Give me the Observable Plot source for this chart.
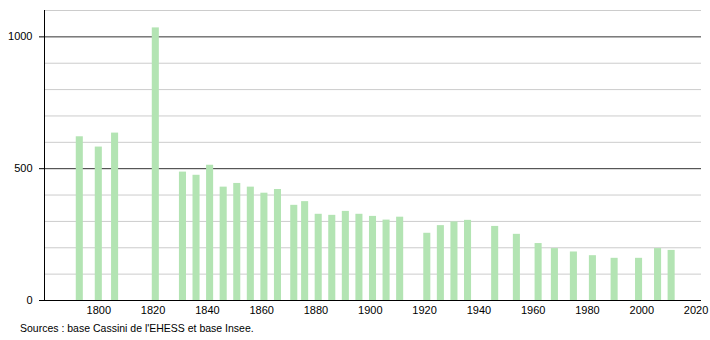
<!DOCTYPE html>
<html><head><meta charset="utf-8">
<script src="https://cdn.jsdelivr.net/npm/d3@7"></script>
<script src="https://cdn.jsdelivr.net/npm/@observablehq/plot@0.6"></script>
<style>
body{margin:0;background:#fff;font-family:"Liberation Sans",Arial,sans-serif;}
#cap{font-size:10.5px;color:#000;padding-left:20px;line-height:16px;margin-top:0;}
</style></head>
<body><div id="chart"></div><div id="cap">Sources : base Cassini de l'EHESS et base Insee.</div>
<script>
const years = [1793,1800,1806,1821,1831,1836,1841,1846,1851,1856,1861,1866,1872,1876,1881,1886,1891,1896,1901,1906,1911,1921,1926,1931,1936,1946,1954,1962,1968,1975,1982,1990,1999,2006,2011];
const population = [621,582,635,1034,487,475,513,430,444,430,407,421,361,375,327,323,338,327,319,305,316,255,284,298,304,281,251,216,197,184,170,160,160,197,190];
const xTicks = [1800,1820,1840,1860,1880,1900,1920,1940,1960,1980,2000,2020];
const yLabelTicks = [0,500,1000];
const gridMinor = [100,200,300,400,600,700,800,900,1100];
const gridMajor = [500,1000];

const data = years.map((y,i)=>({year:y,pop:population[i]}));
const halfW = 1.3;

const chart = Plot.plot({
  width:710, height:320,
  marginLeft:44, marginRight:9, marginTop:10, marginBottom:20,
  style:{fontFamily:"Liberation Sans, Arial, sans-serif", fontSize:"11px", color:"#000", background:"#fff"},
  x:{domain:[1780,2022], ticks:xTicks, tickFormat:d=>String(d), tickSize:0, tickPadding:6, label:null},
  y:{domain:[0,1100], ticks:yLabelTicks, tickSize:5, tickPadding:7, label:null},
  marks:[
    Plot.ruleY(gridMinor,{stroke:"#cccccc", strokeWidth:1}),
    Plot.ruleY(gridMajor,{stroke:"#333", strokeWidth:1}),
    Plot.rectY(data,{x1:d=>d.year-halfW, x2:d=>d.year+halfW, y1:0, y2:"pop", fill:"#b3e4b3"}),
    Plot.ruleY([0],{stroke:"#000", strokeWidth:1}),
    Plot.ruleX([1780],{y1:0,y2:1100,stroke:"#000",strokeWidth:1}),
    Plot.axisY({ticks:yLabelTicks, tickSize:5, tickPadding:7, tickFormat:d=>String(d)}),
    Plot.axisX({ticks:xTicks, tickSize:0, tickPadding:6, tickFormat:d=>String(d)})
  ]
});
document.getElementById("chart").appendChild(chart);
</script></body></html>
